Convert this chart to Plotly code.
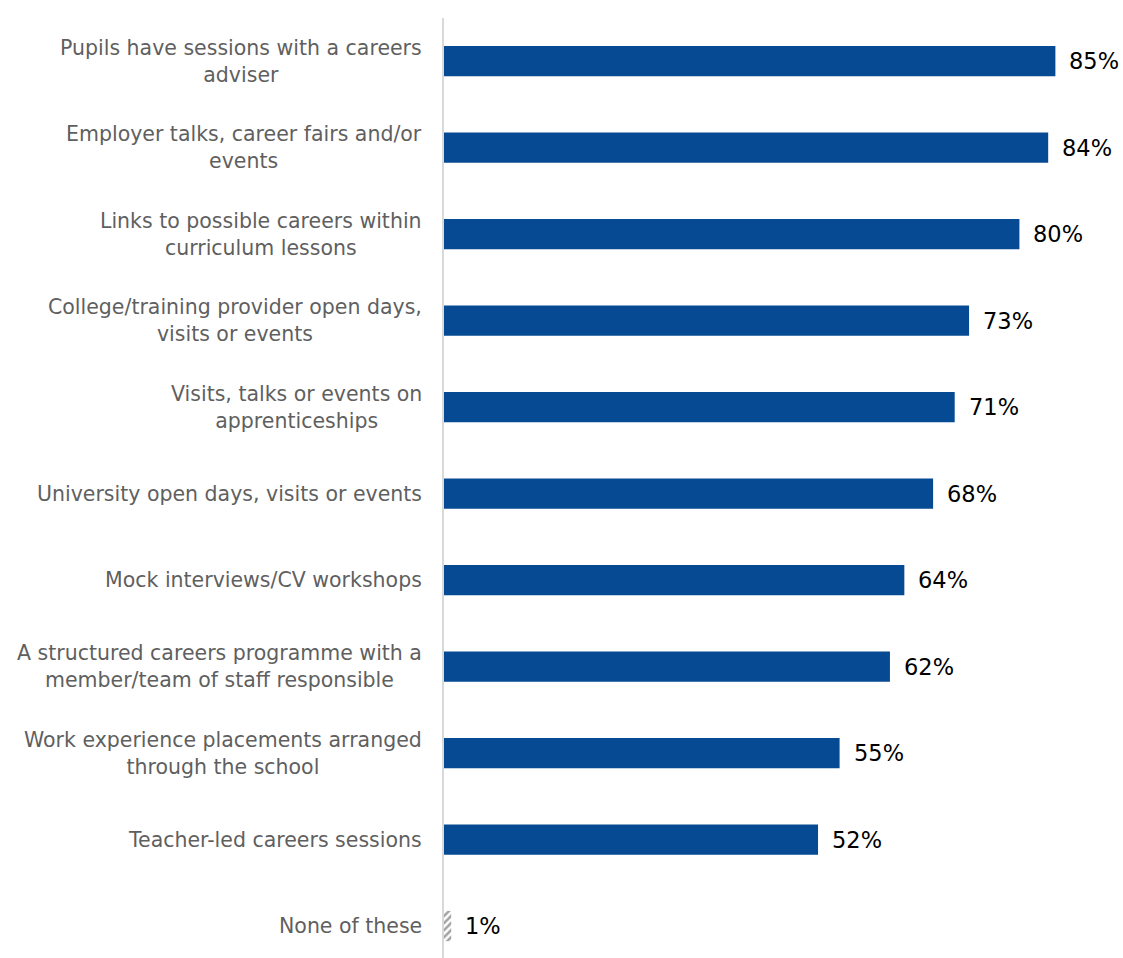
import plotly.graph_objects as go

categories = [
    "Pupils have sessions with a careers<br>adviser",
    "Employer talks, career fairs and/or<br>events",
    "Links to possible careers within<br>curriculum lessons",
    "College/training provider open days,<br>visits or events",
    "Visits, talks or events on<br>apprenticeships",
    "University open days, visits or events",
    "Mock interviews/CV workshops",
    "A structured careers programme with a<br>member/team of staff responsible",
    "Work experience placements arranged<br>through the school",
    "Teacher-led careers sessions",
    "None of these",
]
values = [85, 84, 80, 73, 71, 68, 64, 62, 55, 52, 1]

BLUE = "#064A93"
GREY_TEXT = "#5F5F5F"
FONT = "DejaVu Sans, Arial, sans-serif"

positions = list(range(len(categories)))
is_none = [c == "None of these" for c in categories]

fig = go.Figure()
fig.add_trace(go.Bar(
    x=values,
    y=positions,
    orientation="h",
    width=0.35,
    marker=dict(
        color=["#FFFFFF" if n else BLUE for n in is_none],
        line=dict(width=0),
        pattern=dict(
            shape=["/" if n else "" for n in is_none],
            fgcolor="#A6A6A6",
            bgcolor="#FFFFFF",
            size=5,
            solidity=0.5,
        ),
    ),
    hoverinfo="skip",
))

annotations = []
# category labels, centred lines, right-aligned block next to the axis
for p, cat in zip(positions, categories):
    annotations.append(dict(
        x=0, xref="paper", y=p, yref="y",
        text=cat, showarrow=False,
        xanchor="right", yanchor="middle", align="center",
        xshift=-20,
        font=dict(family=FONT, size=20.5, color=GREY_TEXT),
    ))
# value labels to the right of each bar
for p, v in zip(positions, values):
    annotations.append(dict(
        x=v, xref="x", y=p, yref="y",
        text=f"{v}%", showarrow=False,
        xanchor="left", yanchor="middle",
        xshift=12,
        font=dict(family=FONT, size=22.5, color="#000000"),
    ))

fig.update_layout(
    width=1123, height=958,
    margin=dict(l=444, r=0, t=18, b=0),
    paper_bgcolor="white", plot_bgcolor="white",
    showlegend=False,
    bargap=0.6,
    annotations=annotations,
    xaxis=dict(range=[0, 94.4], visible=False, fixedrange=True),
    yaxis=dict(
        range=[10.37, -0.5],
        showticklabels=False, ticks="",
        showgrid=False, zeroline=False,
        showline=True, linecolor="#D9D9D9", linewidth=2,
        fixedrange=True,
    ),
)

fig.write_html("out.html")
